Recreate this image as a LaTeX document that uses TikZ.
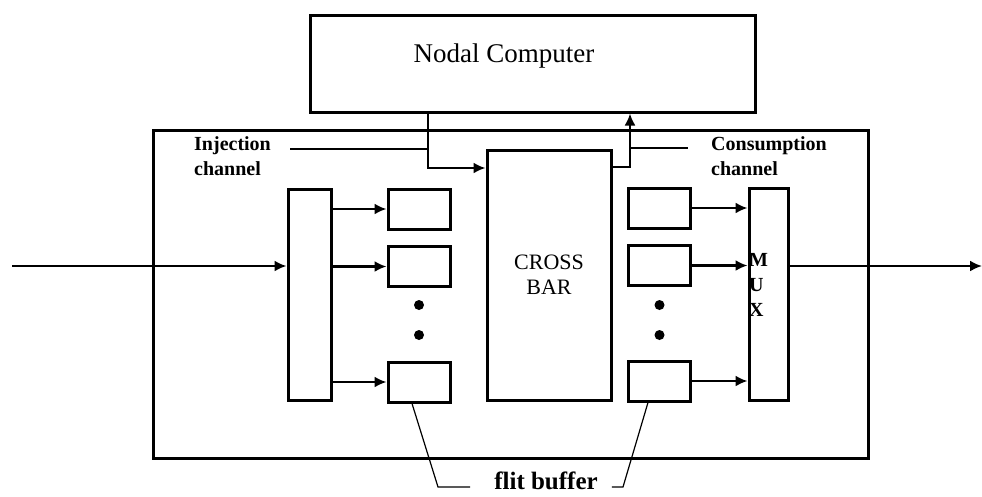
\documentclass[tikz,border=0pt]{standalone}
\usepackage{fontspec}
\setmainfont{Liberation Serif}
\usetikzlibrary{arrows.meta, positioning, calc}

\begin{document}
\begin{tikzpicture}[x=1pt, y=-1pt,
  blk/.style={draw, line width=3pt, inner sep=0pt},
  buf/.style={blk, minimum width=62pt, minimum height=40pt},
  link/.style={line width=2.2pt, -{Latex[length=12pt, width=11pt]}},
  tag/.style={font=\bfseries\fontsize{20}{25}\selectfont, inner sep=0pt, align=left}]
  \useasboundingbox (0,0) rectangle (982,496);
  \node[blk, minimum width=715pt, minimum height=328pt] (router) at (510.5,294) {};
  \node[blk, minimum width=445pt, minimum height=97pt] (nodal) at (532.5,63.5) {};
  \node[font=\fontsize{27}{32}\selectfont, inner sep=0pt, anchor=base] (nodaltxt) at (504,62) {Nodal Computer};
  \node[blk, minimum width=43pt, minimum height=211pt] (demux) at (309.5,294.5) {};
  \node[blk, minimum width=124pt, minimum height=250pt, align=center,
    font=\fontsize{22}{25}\selectfont] (xbar) at (549,275) {CROSS\\BAR};
  \node[blk, minimum width=39pt, minimum height=212pt] (mux) at (768.5,294) {};
  \node[tag, anchor=west] (muxtxt) at (749,285) {M\\U\\X};
  \foreach \i/\r in {1/209, 2/266.5, 3/382} {
    \node[buf] (lbuf\i) at (419,\r) {};
    \node[buf] (rbuf\i) at (659.5,\r-1) {};
    \draw[link] (lbuf\i.west -| demux.east) -- (lbuf\i.west);
    \draw[link] (rbuf\i.east) -- (rbuf\i.east -| mux.west);
  }
  \foreach \c in {419,659.5}
    \foreach \r in {305,335}
      \fill (\c,\r) circle (5pt);
  % line in / line out
  \coordinate (in) at (12,266);
  \coordinate (out) at (982,266);
  \draw[link] (in) -- (in -| demux.west);
  \draw[link] (out -| mux.east) -- (out);
  % channels to the nodal computer
  \coordinate (inj) at (428,168);
  \coordinate (cons) at (630,167);
  \draw[link] (nodal.south -| inj) |- (xbar.west |- inj);
  \draw[link] (xbar.east |- cons) -| (nodal.south -| cons);
  \node[tag, anchor=west] (injtxt) at (194,156) {Injection\\channel};
  \node[tag, anchor=west] (constxt) at (711,156) {Consumption\\channel};
  \coordinate (injtag) at (290,149);
  \coordinate (constag) at (688,148);
  \draw[line width=1.5pt] (injtag) -- (injtag -| inj);
  \draw[line width=1.5pt] (constag -| cons) -- (constag);
  % flit buffer callout
  \node[font=\bfseries\fontsize{25}{30}\selectfont, inner sep=0pt, anchor=base] (flit) at (546,489) {flit buffer};
  \coordinate (fl) at (438,487);
  \coordinate (fr) at (623,487);
  \draw[line width=1.2pt] ([xshift=-7pt]lbuf3.south) -- (fl) -- ([xshift=-24pt]flit.west |- fl);
  \draw[line width=1.2pt] ([xshift=-11.5pt]rbuf3.south) -- (fr) -- ([xshift=14pt]flit.east |- fr);
\end{tikzpicture}
\end{document}
